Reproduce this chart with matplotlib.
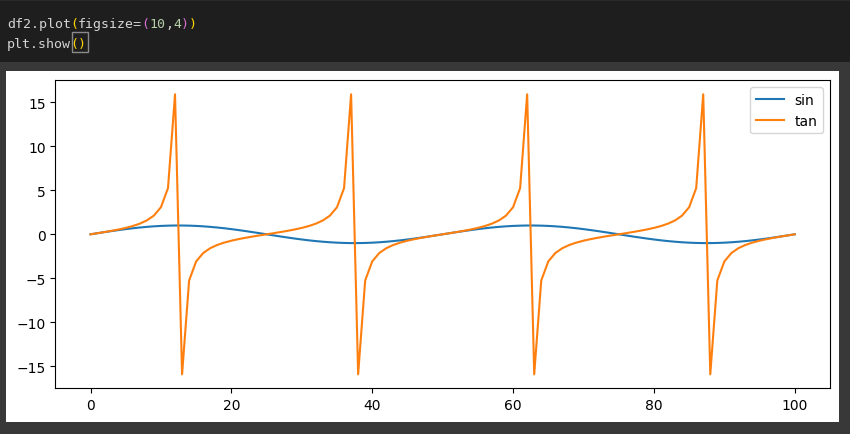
import matplotlib.pyplot as plt
from matplotlib.patches import Rectangle

# DataFrame index and the two columns (sin, tan)
index = list(range(101))

sin = [0.0, 0.125, 0.249, 0.368, 0.482, 0.588, 0.685, 0.771, 0.844, 0.905, 0.951, 0.982, 0.998,
       0.998, 0.982, 0.951, 0.905, 0.844, 0.771, 0.685, 0.588, 0.482, 0.368, 0.249, 0.125,
       0.0, -0.125, -0.249, -0.368, -0.482, -0.588, -0.685, -0.771, -0.844, -0.905, -0.951, -0.982, -0.998,
       -0.998, -0.982, -0.951, -0.905, -0.844, -0.771, -0.685, -0.588, -0.482, -0.368, -0.249, -0.125,
       0.0, 0.125, 0.249, 0.368, 0.482, 0.588, 0.685, 0.771, 0.844, 0.905, 0.951, 0.982, 0.998,
       0.998, 0.982, 0.951, 0.905, 0.844, 0.771, 0.685, 0.588, 0.482, 0.368, 0.249, 0.125,
       0.0, -0.125, -0.249, -0.368, -0.482, -0.588, -0.685, -0.771, -0.844, -0.905, -0.951, -0.982, -0.998,
       -0.998, -0.982, -0.951, -0.905, -0.844, -0.771, -0.685, -0.588, -0.482, -0.368, -0.249, -0.125,
       0.0]

tan = [0.0, 0.126, 0.257, 0.396, 0.550, 0.727, 0.939, 1.209, 1.576, 2.125, 3.078, 5.242, 15.895,
       -15.895, -5.242, -3.078, -2.125, -1.576, -1.209, -0.939, -0.727, -0.550, -0.396, -0.257, -0.126,
       0.0, 0.126, 0.257, 0.396, 0.550, 0.727, 0.939, 1.209, 1.576, 2.125, 3.078, 5.242, 15.895,
       -15.895, -5.242, -3.078, -2.125, -1.576, -1.209, -0.939, -0.727, -0.550, -0.396, -0.257, -0.126,
       0.0, 0.126, 0.257, 0.396, 0.550, 0.727, 0.939, 1.209, 1.576, 2.125, 3.078, 5.242, 15.895,
       -15.895, -5.242, -3.078, -2.125, -1.576, -1.209, -0.939, -0.727, -0.550, -0.396, -0.257, -0.126,
       0.0, 0.126, 0.257, 0.396, 0.550, 0.727, 0.939, 1.209, 1.576, 2.125, 3.078, 5.242, 15.895,
       -15.895, -5.242, -3.078, -2.125, -1.576, -1.209, -0.939, -0.727, -0.550, -0.396, -0.257, -0.126,
       0.0]

# code cell text, split into coloured pieces
code_lines = [
    [("df2.plot", "#d4d4d4"), ("(", "#ffd700"), ("figsize=", "#d4d4d4"), ("(", "#da70d6"),
     ("10", "#b5cea8"), (",", "#d4d4d4"), ("4", "#b5cea8"), (")", "#da70d6"), (")", "#ffd700")],
    [("plt.show", "#d4d4d4"), ("()", "#ffd700")],
]

W, H = 850, 435


def px(x, y):
    # pixel (from top-left) -> figure fraction
    return x / W, 1 - y / H


fig = plt.figure(figsize=(8.5, 4.35), dpi=100, facecolor='#383838')

# dark code cell
fig.add_artist(Rectangle(px(0, 63), 1, 63 / H, transform=fig.transFigure, facecolor='#1e1e1e',
                         edgecolor='none', zorder=0))
fig.add_artist(Rectangle(px(0, 2), 1, 2 / H, transform=fig.transFigure, facecolor='#2a2a2a',
                         edgecolor='none', zorder=0))
# white output panel
fig.add_artist(Rectangle(px(6, 423), 833 / W, 351 / H, transform=fig.transFigure, facecolor='white',
                         edgecolor='none', zorder=0))
# bracket highlight box
fig.add_artist(Rectangle(px(71.5, 53), 16 / W, 20 / H, transform=fig.transFigure, facecolor='#1e1e1e',
                         edgecolor='#8a8a8a', linewidth=1, zorder=1))

char_w = 7.9
for row, parts in enumerate(code_lines):
    col = 0
    for txt, color in parts:
        x, y = px(7 + col * char_w, 28 + row * 20)
        fig.text(x, y, txt, color=color, family='DejaVu Sans Mono', fontsize=9.5,
                 va='baseline', ha='left', zorder=2)
        col += len(txt)

ax = fig.add_axes([55.3 / W, (H - 389.3) / H, 774.7 / W, 308 / H])
ax.plot(index, sin, color='#1f77b4', linewidth=1.5, label='sin')
ax.plot(index, tan, color='#ff7f0e', linewidth=1.5, label='tan')
ax.tick_params(labelsize=10)
ax.legend(loc='upper right', fontsize=10)

fig.savefig('out.png', dpi=100, facecolor=fig.get_facecolor())
